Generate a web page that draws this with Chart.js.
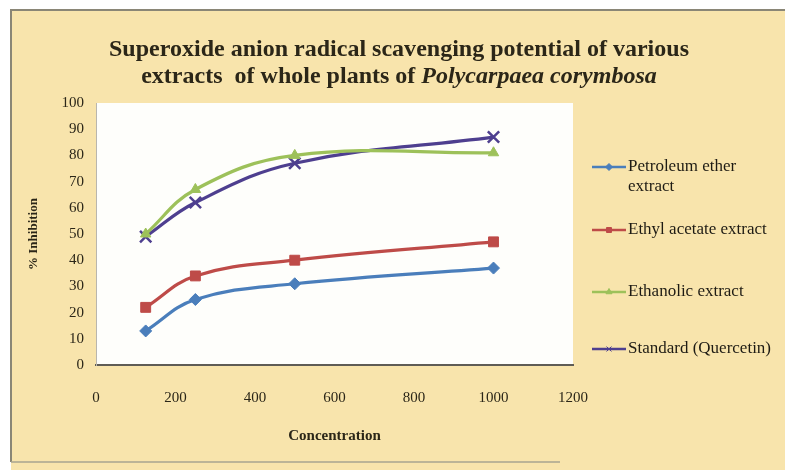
<!DOCTYPE html>
<html>
<head>
<meta charset="utf-8">
<script src="https://cdn.jsdelivr.net/npm/chart.js@4.4.1/dist/chart.umd.min.js"></script>
<style>
  html, body { margin: 0; padding: 0; background: #fff; }
  #wrap { width: 785px; height: 470px; position: relative; }
</style>
</head>
<body>
<div id="wrap"><canvas id="c" width="785" height="470"></canvas></div>
<script>
// Concentration (x) and % inhibition for each extract
const concentrations = [125, 250, 500, 1000];
const petroleumEther = [13, 25, 31, 37];
const ethylAcetate = [22, 34, 40, 47];
const ethanolic = [50, 67, 80, 81];
const quercetin = [49, 62, 77, 87];

const seriesNames = [
  'Petroleum ether extract',
  'Ethyl acetate extract',
  'Ethanolic extract',
  'Standard (Quercetin)'
];
const xTicks = [0, 200, 400, 600, 800, 1000, 1200];
const yTicks = [0, 10, 20, 30, 40, 50, 60, 70, 80, 90, 100];

const titleLine1 = 'Superoxide anion radical scavenging potential of various';
const titleLine2a = 'extracts  of whole plants of ';
const titleLine2b = 'Polycarpaea corymbosa';

const SERIF = '"Liberation Serif", "DejaVu Serif", serif';
const INK = '#2b2618';

function toPoints(vals) {
  return concentrations.map((x, i) => ({ x: x, y: vals[i] }));
}

const styles = [
  { color: '#4a7ebb', point: 'rectRot', radius: 6 },
  { color: '#be4b48', point: 'rect', radius: 7 },
  { color: '#9dc15a', point: 'triangle', radius: 6 },
  { color: '#4e3f8f', point: 'crossRot', radius: 8 }
];
const seriesValues = [petroleumEther, ethylAcetate, ethanolic, quercetin];

const datasets = seriesValues.map((vals, i) => ({
  label: seriesNames[i],
  data: toPoints(vals),
  borderColor: styles[i].color,
  backgroundColor: styles[i].color,
  pointBackgroundColor: styles[i].color,
  pointBorderColor: styles[i].color,
  pointStyle: styles[i].point,
  pointRadius: styles[i].radius,
  pointBorderWidth: i === 3 ? 2.5 : 1,
  borderWidth: 3.2,
  tension: 0.4,
  fill: false
}));

// Page frame: beige panel, grey rule on top/left, white plot area
const framePlugin = {
  id: 'frame',
  beforeDraw(chart) {
    const ctx = chart.ctx;
    const a = chart.chartArea;
    ctx.save();
    ctx.fillStyle = '#ffffff';
    ctx.fillRect(0, 0, chart.width, chart.height);
    ctx.fillStyle = '#f8e4ac';
    ctx.fillRect(11, 10, chart.width - 11, chart.height - 10);
    ctx.strokeStyle = '#8a8676';
    ctx.lineWidth = 2;
    ctx.beginPath();
    ctx.moveTo(11, chart.height - 8);
    ctx.lineTo(11, 10);
    ctx.lineTo(chart.width, 10);
    ctx.stroke();
    ctx.strokeStyle = '#a9a491';
    ctx.lineWidth = 1.5;
    ctx.beginPath();
    ctx.moveTo(11, chart.height - 8);
    ctx.lineTo(560, chart.height - 8);
    ctx.stroke();
    ctx.fillStyle = '#fefefb';
    ctx.fillRect(a.left, a.top, a.right - a.left, a.bottom - a.top);
    ctx.restore();
  }
};

// Two-line title, species name in italics
const titlePlugin = {
  id: 'twoLineTitle',
  afterDraw(chart) {
    const ctx = chart.ctx;
    const cx = 399;
    ctx.save();
    ctx.fillStyle = INK;
    ctx.textBaseline = 'middle';
    ctx.textAlign = 'left';

    const f1 = 'bold 23px ' + SERIF;
    ctx.font = f1;
    const w1 = ctx.measureText(titleLine1).width;
    const s1 = 580 / w1;
    ctx.save();
    ctx.translate(cx - 290, 50);
    ctx.scale(s1, 1);
    ctx.fillText(titleLine1, 0, 0);
    ctx.restore();

    const f2b = 'bold italic 23px ' + SERIF;
    ctx.font = f1;
    const wa = ctx.measureText(titleLine2a).width;
    ctx.font = f2b;
    const wb = ctx.measureText(titleLine2b).width;
    const total = (wa + wb) * s1;
    ctx.save();
    ctx.translate(cx - total / 2, 77);
    ctx.scale(s1, 1);
    ctx.font = f1;
    ctx.fillText(titleLine2a, 0, 0);
    ctx.font = f2b;
    ctx.fillText(titleLine2b, wa, 0);
    ctx.restore();
    ctx.restore();
  }
};

// Legend to the right of the plot: line segment with marker, wrapped label
const legendPlugin = {
  id: 'sideLegend',
  afterDraw(chart) {
    const ctx = chart.ctx;
    const rows = [167, 230, 292, 349];
    const x0 = 592, x1 = 626, tx = 628, maxW = 152;
    ctx.save();
    ctx.font = '17px ' + SERIF;
    ctx.textBaseline = 'middle';
    ctx.textAlign = 'left';
    chart.data.datasets.forEach((ds, i) => {
      const y = rows[i];
      ctx.strokeStyle = ds.borderColor;
      ctx.lineWidth = 2.5;
      ctx.beginPath();
      ctx.moveTo(x0, y);
      ctx.lineTo(x1, y);
      ctx.stroke();
      ctx.fillStyle = ds.borderColor;
      ctx.strokeStyle = ds.borderColor;
      ctx.lineWidth = 1;
      Chart.helpers.drawPoint(ctx, { pointStyle: ds.pointStyle, radius: 3.5, rotation: 0, borderWidth: 1 }, (x0 + x1) / 2, y);
      // wrap label
      const words = ds.label.split(' ');
      const lines = [];
      let cur = '';
      words.forEach(w => {
        const t = cur ? cur + ' ' + w : w;
        if (ctx.measureText(t).width > maxW && cur) { lines.push(cur); cur = w; }
        else cur = t;
      });
      lines.push(cur);
      ctx.fillStyle = '#1e1b14';
      lines.forEach((ln, k) => ctx.fillText(ln, tx, y + k * 20));
    });
    ctx.restore();
  }
};

new Chart(document.getElementById('c'), {
  type: 'line',
  data: { datasets: datasets },
  plugins: [framePlugin, titlePlugin, legendPlugin],
  options: {
    responsive: false,
    animation: false,
    devicePixelRatio: 1,
    layout: { padding: { top: 103, left: 22, right: 212, bottom: 20 } },
    plugins: {
      legend: { display: false },
      title: { display: false },
      tooltip: { enabled: false }
    },
    scales: {
      x: {
        type: 'linear',
        min: 0,
        max: 1200,
        afterFit(s) { s.height = 85; },
        afterBuildTicks(s) { s.ticks = xTicks.map(v => ({ value: v })); },
        grid: { display: false, drawTicks: false },
        border: { display: true, color: '#5f5c55', width: 2 },
        ticks: {
          padding: 24,
          color: INK,
          font: { family: SERIF, size: 15 },
          callback: v => String(v)
        },
        title: {
          display: true,
          text: 'Concentration',
          color: INK,
          font: { family: SERIF, size: 15, weight: 'bold' },
          padding: { top: 0, bottom: 5 }
        }
      },
      y: {
        min: 0,
        max: 100,
        afterFit(s) { s.width = 74; },
        afterBuildTicks(s) { s.ticks = yTicks.map(v => ({ value: v })); },
        grid: { display: false, drawTicks: false },
        border: { display: true, color: '#b9b6ae', width: 1 },
        ticks: {
          padding: 12,
          color: INK,
          font: { family: SERIF, size: 15 },
          callback: v => String(v)
        },
        title: {
          display: true,
          text: '% Inhibition',
          color: INK,
          font: { family: SERIF, size: 13, weight: 'bold' },
          padding: { top: 4, bottom: 0 }
        }
      }
    }
  }
});
</script>
</body>
</html>
